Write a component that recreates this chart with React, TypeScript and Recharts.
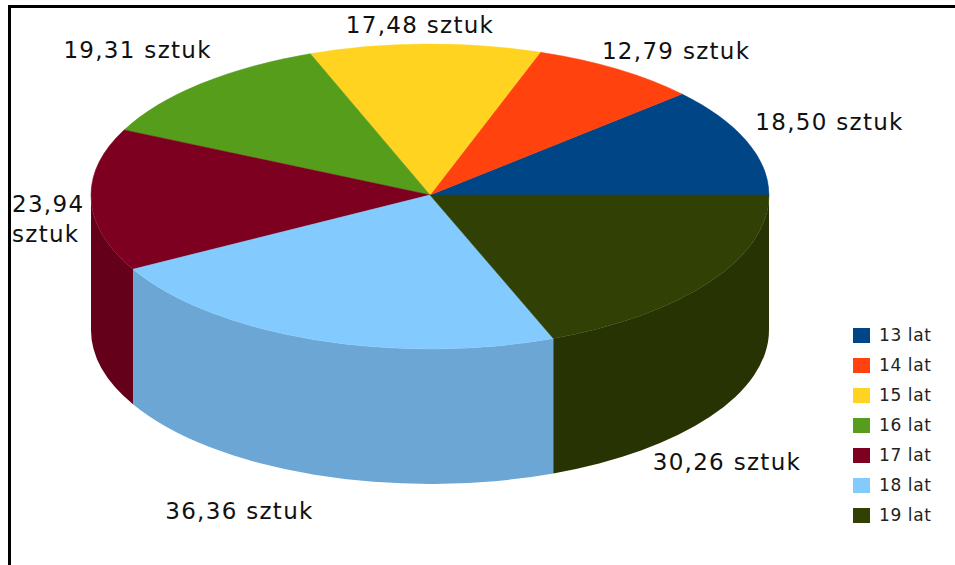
import { PieChart, Pie, Legend } from "recharts"

const ages = ["13 lat", "14 lat", "15 lat", "16 lat", "17 lat", "18 lat", "19 lat"]
const values = [18.5, 12.79, 17.48, 19.31, 23.94, 36.36, 30.26]
const topColors = ["#004586", "#ff420e", "#ffd320", "#579d1c", "#7e0021", "#83caff", "#314004"]
const wallColors = ["#003a70", "#d1360b", "#d1ad1a", "#468016", "#65001a", "#6ba6d4", "#273303"]

const tableData = ages.map((age, i) => ({
  name: age,
  value: values[i],
  fill: topColors[i],
  wall: wallColors[i],
}))

// tilted pie: the back half of the rim is a bit flatter than the front half
const RX = 339
const RY_BACK = 151
const RY_FRONT = 154
const DEPTH = 135
const CX = 430
const CY = 195

// label shift from the rim point of each slice
const labelNudge = [
  [83, -11],
  [59, -10],
  [-5, -11],
  [-63, -26],
  [0, 0],
  [-75, 179],
  [17, 188],
]

const rad = (a: number) => (a * Math.PI) / 180
const ryAt = (a: number) => (a <= 180 ? RY_BACK : RY_FRONT)
const rimX = (a: number) => CX + RX * Math.cos(rad(a))
const rimY = (a: number) => CY - ryAt(a) * Math.sin(rad(a))

const Slice3D = (props: any) => {
  const { startAngle, endAngle, fill, payload } = props
  let arc = ""
  if (startAngle < 180 && endAngle > 180) {
    arc =
      `A${RX},${RY_BACK} 0 0 0 ${rimX(180)},${CY} ` +
      `A${RX},${RY_FRONT} 0 0 0 ${rimX(endAngle)},${rimY(endAngle)}`
  } else {
    arc = `A${RX},${ryAt(endAngle)} 0 0 0 ${rimX(endAngle)},${rimY(endAngle)}`
  }
  const top = `M${CX},${CY} L${rimX(startAngle)},${rimY(startAngle)} ${arc} Z`

  const from = Math.max(startAngle, 180)
  const to = Math.min(endAngle, 360)
  let wall = null
  if (to > from) {
    const d =
      `M${rimX(from)},${rimY(from)} A${RX},${RY_FRONT} 0 0 0 ${rimX(to)},${rimY(to)} ` +
      `L${rimX(to)},${rimY(to) + DEPTH} A${RX},${RY_FRONT} 0 0 1 ${rimX(from)},${rimY(from) + DEPTH} Z`
    wall = <path d={d} fill={payload?.wall ?? props.wall} />
  }
  return (
    <g>
      {wall}
      <path d={top} fill={fill} stroke={fill} strokeWidth={0.5} />
    </g>
  )
}

const renderLabel = (props: any) => {
  const { midAngle, value, index } = props
  const text = value.toFixed(2).replace(".", ",")
  const style = { fontFamily: "'DejaVu Sans', sans-serif", fontSize: 23, letterSpacing: 1.3, fill: "#111" }
  if (index === 4) {
    // this one wraps, it has no room left of the pie
    return (
      <text x={12} y={212} textAnchor="start" style={style}>
        <tspan x={12}>{text}</tspan>
        <tspan x={12} dy={30}>sztuk</tspan>
      </text>
    )
  }
  const [dx, dy] = labelNudge[index]
  return (
    <text x={rimX(midAngle) + dx} y={rimY(midAngle) + dy} textAnchor="middle" style={style}>
      {text} sztuk
    </text>
  )
}

const LegendBox = ({ payload }: any) => (
  <div>
    {(payload ?? []).map((item: any) => (
      <div key={item.value} style={{ display: "flex", alignItems: "center", height: 30 }}>
        <span style={{ width: 17, height: 15, background: item.color, marginRight: 9 }} />
        <span style={{ fontFamily: "'DejaVu Sans', sans-serif", fontSize: 17, letterSpacing: 0.6, color: "#222" }}>
          {item.value}
        </span>
      </div>
    ))}
  </div>
)

export default function App() {
  return (
    <div style={{ position: "absolute", left: 0, top: 0, width: 955, height: 565, overflow: "hidden", background: "#fff" }}>
      <div
        style={{
          position: "absolute",
          left: 8,
          top: 5,
          right: 0,
          bottom: 0,
          borderTop: "3px solid #000",
          borderLeft: "3px solid #000",
        }}
      />
      <div style={{ position: "absolute", left: 0, top: 0 }}>
        <PieChart width={955} height={565} margin={{ top: 0, right: 0, bottom: 0, left: 0 }}>
          <Pie
            data={tableData}
            dataKey="value"
            nameKey="name"
            cx={CX}
            cy={CY}
            outerRadius={RX}
            startAngle={0}
            endAngle={360}
            paddingAngle={0}
            stroke="none"
            shape={Slice3D}
            label={renderLabel}
            labelLine={false}
            isAnimationActive={false}
          />
          <Legend
            layout="vertical"
            align="right"
            verticalAlign="top"
            content={<LegendBox />}
            wrapperStyle={{ position: "absolute", left: 853, top: 320, width: 100 }}
          />
        </PieChart>
      </div>
    </div>
  )
}
